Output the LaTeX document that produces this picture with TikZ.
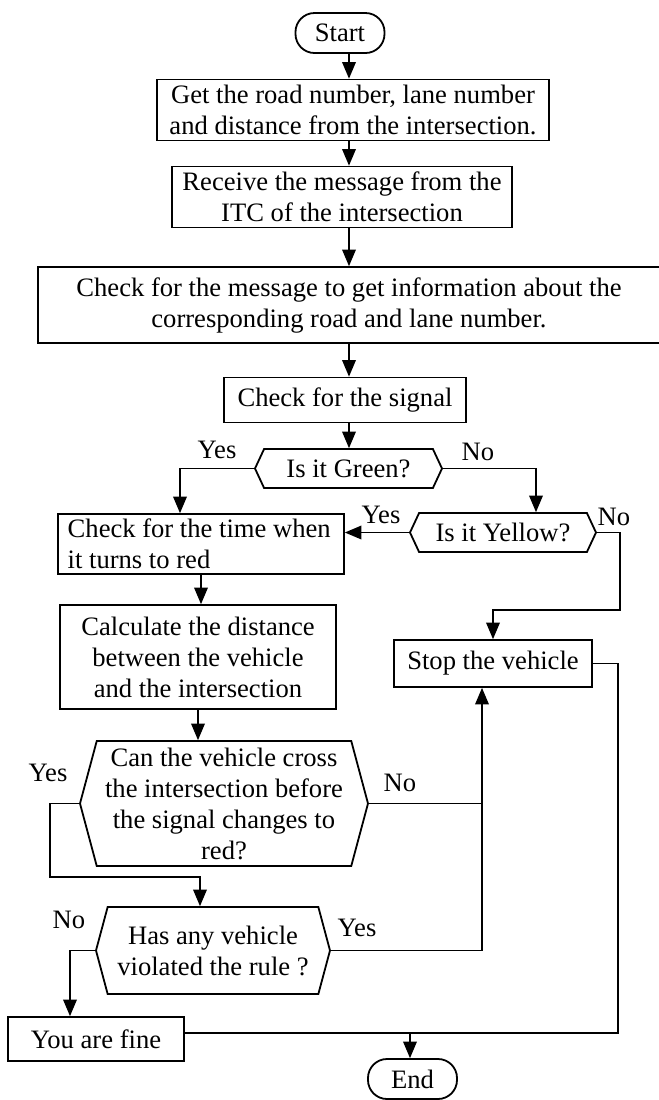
\documentclass[tikz,border=0pt]{standalone}
\usepackage{fontspec}
\setmainfont{Liberation Serif}
\usetikzlibrary{arrows,shapes.symbols}

\begin{document}
\begin{tikzpicture}[x=0.5pt,y=-0.5pt,>=triangle 45,line width=0.9pt,
  font=\fontsize{13.3}{15.5}\selectfont,
  term/.style={draw,rounded corners=9.5pt,minimum width=44.5pt,minimum height=20pt,inner sep=0pt},
  box/.style={draw,align=center,inner sep=2pt},
  hexa/.style={draw,shape=signal,signal to=east and west,align=center,inner sep=1pt},
  lbl/.style={inner sep=0pt}]
\useasboundingbox (0,0) rectangle (659,1100);

% blocks
\node[term] (start) at (340,33) {Start};
\node[box,minimum width=196pt,minimum height=30.5pt] (get) at (353,110)
  {Get the road number, lane number\\and distance from the intersection.};
\node[box,minimum width=170pt,minimum height=30.5pt] (recv) at (342,197)
  {Receive the message from the\\ITC of the intersection};
\node[box,minimum width=311pt,minimum height=38pt] (chkmsg) at (349,305)
  {Check for the message to get information about the\\corresponding road and lane number.};
\node[box,minimum width=121pt,minimum height=22.5pt] (chksig) at (345,400) {Check for the signal};
\node[hexa,signal pointer angle=130,minimum width=93.5pt,minimum height=19.5pt] (green) at (348.5,468.5) {Is it Green?};
\node[hexa,signal pointer angle=130,minimum width=93pt,minimum height=19.5pt] (yellow) at (503,532.5) {Is it Yellow?};
\node[box,align=left,minimum width=143pt,minimum height=30pt] (time) at (201,544)
  {Check for the time when\\it turns to red\hspace*{62pt}};
\node[box,minimum width=138pt,minimum height=52pt] (calc) at (198,657)
  {Calculate the distance\\between the vehicle\\and the intersection};
\node[box,minimum width=99pt,minimum height=23.5pt] (stop) at (493,663.5) {Stop the vehicle};
\node[hexa,signal pointer angle=150,minimum width=144pt,minimum height=62.5pt] (can) at (224,803.5)
  {Can the vehicle cross\\the intersection before\\the signal changes to\\red?};
\node[hexa,signal pointer angle=150,minimum width=117pt,minimum height=43.5pt] (has) at (213,950.5)
  {Has any vehicle\\violated the rule ?};
\node[box,minimum width=88pt,minimum height=22pt] (fine) at (96,1039) {You are fine};
\node[term] (end) at (412.5,1079) {End};

% labels
\node[lbl] (ygreen) at (217,450) {Yes};
\node[lbl] (ngreen) at (478,452) {No};
\node[lbl] (yyellow) at (381,515) {Yes};
\node[lbl] (nyellow) at (614,517) {No};
\node[lbl] (ycan) at (48,773) {Yes};
\node[lbl] (ncan) at (400,783) {No};
\node[lbl] (nhas) at (69,920) {No};
\node[lbl] (yhas) at (357,928) {Yes};

% helper points
\coordinate (mx) at (349,0);
\coordinate (gy) at (180,0);
\coordinate (gn) at (536,0);
\coordinate (yn) at (620,610);
\coordinate (cy) at (50,877);
\coordinate (hy) at (200,0);
\coordinate (sv) at (482,0);
\coordinate (hn) at (70,0);
\coordinate (se) at (618,1033);
\coordinate (ej) at (410,1033);

% connectors
\draw[->] (start.south -| mx) -- (mx |- get.north);
\draw[->] (get.south -| mx) -- (mx |- recv.north);
\draw[->] (recv.south -| mx) -- (mx |- chkmsg.north);
\draw[->] (chkmsg.south -| mx) -- (mx |- chksig.north);
\draw[->] (chksig.south -| mx) -- (mx |- green.north);
\draw[->] (green.west) -| (gy |- time.north);
\draw[->] (green.east) -| (gn |- yellow.north);
\draw[->] (yellow.west) -- (yellow.west -| time.east);
\draw[->] (yellow.east) -| (yn) -| (stop.north);
\draw[->] (time.south) -- (time.south |- calc.north);
\draw[->] (calc.south) -- (calc.south |- can.north);
\draw[->] (can.west) -| (cy) -| (hy |- has.north);
\draw (can.east) -- (can.east -| sv);
\draw[->] (has.east) -| (sv |- stop.south);
\draw[->] (has.west) -| (hn |- fine.north);
\draw (stop.east) -| (se) -- (ej);
\draw (fine.east |- ej) -- (ej);
\draw[->] (ej) -- (ej |- end.north);
\end{tikzpicture}
\end{document}
